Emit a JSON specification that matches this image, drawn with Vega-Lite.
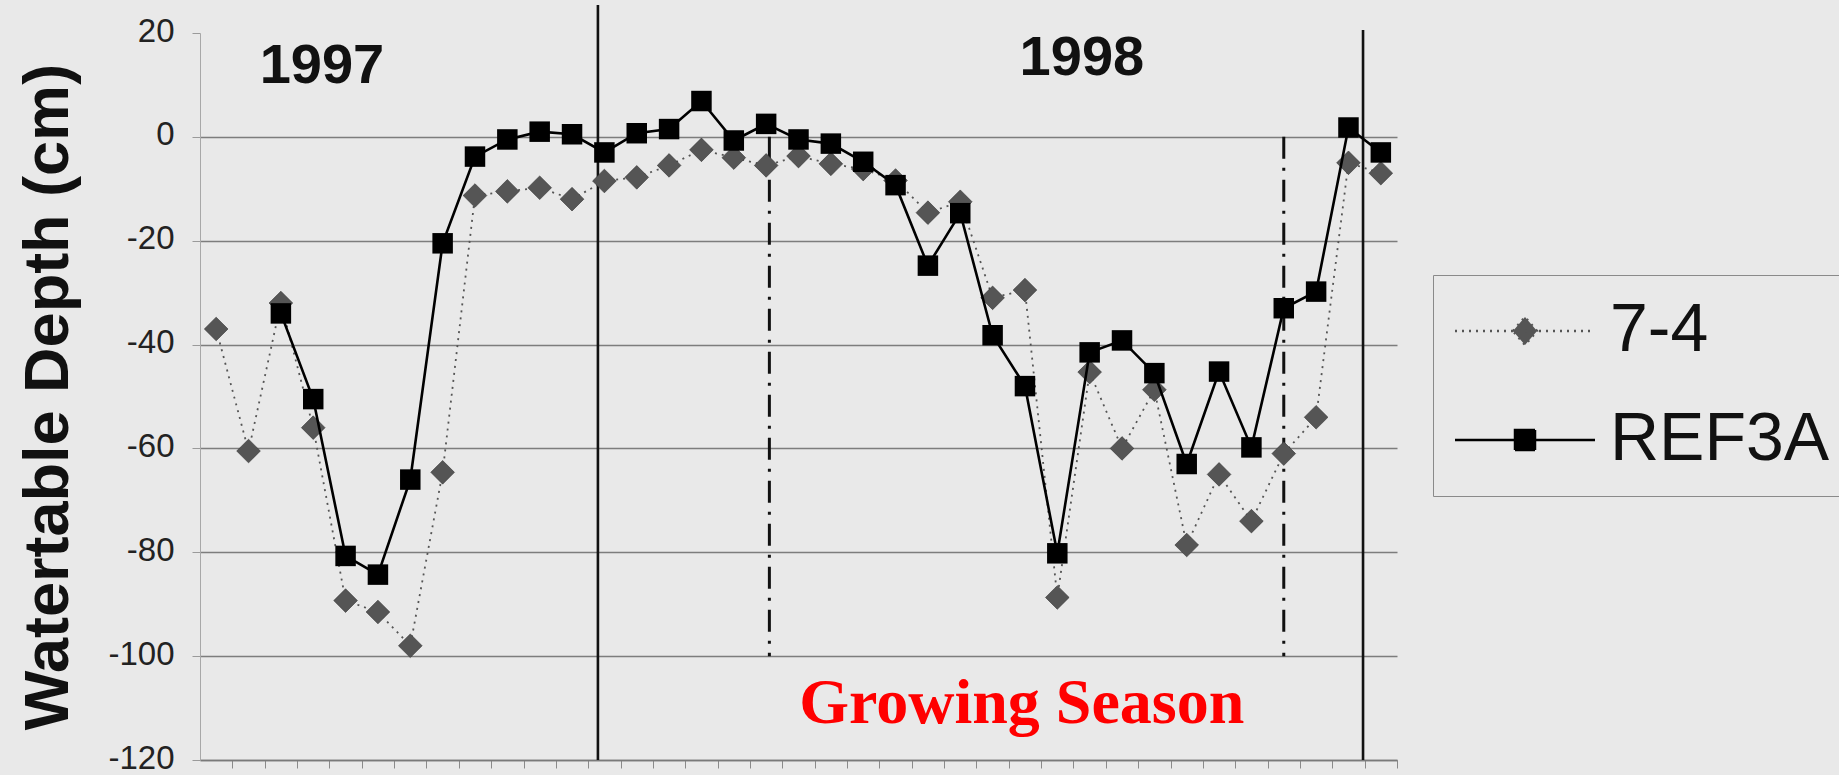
{
  "$schema": "https://vega.github.io/schema/vega-lite/v6.json",
  "width": 1197,
  "height": 727,
  "autosize": "none",
  "padding": {"left": 200, "top": 33, "right": 442, "bottom": 15},
  "background": "#e9e9e9",
  "config": {"view": {"stroke": null}, "font": "Liberation Sans"},
  "datasets": {
    "depth": [
      {"i": 0, "series": "7-4", "depth": -37},
      {"i": 1, "series": "7-4", "depth": -60.5},
      {"i": 2, "series": "7-4", "depth": -32},
      {"i": 3, "series": "7-4", "depth": -56},
      {"i": 4, "series": "7-4", "depth": -89.3},
      {"i": 5, "series": "7-4", "depth": -91.5},
      {"i": 6, "series": "7-4", "depth": -98},
      {"i": 7, "series": "7-4", "depth": -64.6},
      {"i": 8, "series": "7-4", "depth": -11.3},
      {"i": 9, "series": "7-4", "depth": -10.5},
      {"i": 10, "series": "7-4", "depth": -9.8},
      {"i": 11, "series": "7-4", "depth": -12},
      {"i": 12, "series": "7-4", "depth": -8.5},
      {"i": 13, "series": "7-4", "depth": -7.8},
      {"i": 14, "series": "7-4", "depth": -5.5},
      {"i": 15, "series": "7-4", "depth": -2.5},
      {"i": 16, "series": "7-4", "depth": -4},
      {"i": 17, "series": "7-4", "depth": -5.5},
      {"i": 18, "series": "7-4", "depth": -3.7},
      {"i": 19, "series": "7-4", "depth": -5.2},
      {"i": 20, "series": "7-4", "depth": -6.2},
      {"i": 21, "series": "7-4", "depth": -8.4},
      {"i": 22, "series": "7-4", "depth": -14.6},
      {"i": 23, "series": "7-4", "depth": -12.5},
      {"i": 24, "series": "7-4", "depth": -31},
      {"i": 25, "series": "7-4", "depth": -29.5},
      {"i": 26, "series": "7-4", "depth": -88.7},
      {"i": 27, "series": "7-4", "depth": -45.3},
      {"i": 28, "series": "7-4", "depth": -60},
      {"i": 29, "series": "7-4", "depth": -48.7},
      {"i": 30, "series": "7-4", "depth": -78.6},
      {"i": 31, "series": "7-4", "depth": -65},
      {"i": 32, "series": "7-4", "depth": -74},
      {"i": 33, "series": "7-4", "depth": -61},
      {"i": 34, "series": "7-4", "depth": -54},
      {"i": 35, "series": "7-4", "depth": -5},
      {"i": 36, "series": "7-4", "depth": -7},
      {"i": 2, "series": "REF3A", "depth": -34},
      {"i": 3, "series": "REF3A", "depth": -50.5},
      {"i": 4, "series": "REF3A", "depth": -80.7},
      {"i": 5, "series": "REF3A", "depth": -84.3},
      {"i": 6, "series": "REF3A", "depth": -66},
      {"i": 7, "series": "REF3A", "depth": -20.5},
      {"i": 8, "series": "REF3A", "depth": -3.8},
      {"i": 9, "series": "REF3A", "depth": -0.5},
      {"i": 10, "series": "REF3A", "depth": 1},
      {"i": 11, "series": "REF3A", "depth": 0.5},
      {"i": 12, "series": "REF3A", "depth": -3},
      {"i": 13, "series": "REF3A", "depth": 0.7},
      {"i": 14, "series": "REF3A", "depth": 1.5},
      {"i": 15, "series": "REF3A", "depth": 6.9},
      {"i": 16, "series": "REF3A", "depth": -0.7},
      {"i": 17, "series": "REF3A", "depth": 2.5},
      {"i": 18, "series": "REF3A", "depth": -0.5},
      {"i": 19, "series": "REF3A", "depth": -1.3},
      {"i": 20, "series": "REF3A", "depth": -4.8},
      {"i": 21, "series": "REF3A", "depth": -9.3},
      {"i": 22, "series": "REF3A", "depth": -24.8},
      {"i": 23, "series": "REF3A", "depth": -14.7},
      {"i": 24, "series": "REF3A", "depth": -38.2},
      {"i": 25, "series": "REF3A", "depth": -48},
      {"i": 26, "series": "REF3A", "depth": -80.2},
      {"i": 27, "series": "REF3A", "depth": -41.5},
      {"i": 28, "series": "REF3A", "depth": -39.2},
      {"i": 29, "series": "REF3A", "depth": -45.5},
      {"i": 30, "series": "REF3A", "depth": -63},
      {"i": 31, "series": "REF3A", "depth": -45.2},
      {"i": 32, "series": "REF3A", "depth": -59.8},
      {"i": 33, "series": "REF3A", "depth": -33},
      {"i": 34, "series": "REF3A", "depth": -29.8},
      {"i": 35, "series": "REF3A", "depth": 1.8},
      {"i": 36, "series": "REF3A", "depth": -3}
    ],
    "yearLines": [
      {"i": 11.8, "depth": 25.4, "depth2": -120},
      {"i": 35.45, "depth": 20.6, "depth2": -120}
    ],
    "seasonLines": [
      {"i": 17.1, "depth": 0, "depth2": -100},
      {"i": 33.0, "depth": 0, "depth2": -100}
    ],
    "years": [
      {"i": 3.27, "depth": 10.4, "label": "1997"},
      {"i": 26.76, "depth": 11.9, "label": "1998"}
    ],
    "season": [
      {"i": 24.9, "depth": -112.8, "label": "Growing Season"}
    ]
  },
  "encoding": {
    "x": {
      "field": "i",
      "type": "quantitative",
      "scale": {"domain": [-0.5, 36.5], "nice": false, "zero": false},
      "axis": {
        "title": null,
        "labels": false,
        "grid": false,
        "values": [0.5, 1.5, 2.5, 3.5, 4.5, 5.5, 6.5, 7.5, 8.5, 9.5, 10.5, 11.5, 12.5, 13.5, 14.5, 15.5, 16.5, 17.5, 18.5, 19.5, 20.5, 21.5, 22.5, 23.5, 24.5, 25.5, 26.5, 27.5, 28.5, 29.5, 30.5, 31.5, 32.5, 33.5, 34.5, 35.5, 36.5],
        "tickSize": 8,
        "tickColor": "#8a8a8a",
        "tickWidth": 1,
        "domainColor": "#7a7a7a",
        "domainWidth": 1.5
      }
    },
    "y": {
      "field": "depth",
      "type": "quantitative",
      "scale": {"domain": [-120, 20], "nice": false, "zero": false},
      "axis": {
        "title": "Watertable Depth (cm)",
        "titleFont": "Liberation Sans",
        "titleFontSize": 63,
        "titleFontWeight": "bold",
        "titleColor": "#111111",
        "titleX": -133,
        "titleY": 363.5,
        "titleAlign": "center",
        "titleBaseline": "alphabetic",
        "titleAngle": 270,
        "values": [-120, -100, -80, -60, -40, -20, 0, 20],
        "labelExpr": "'' + datum.value",
        "labelFont": "Liberation Sans",
        "labelFontSize": 33,
        "labelColor": "#222222",
        "labelPadding": 18,
        "labelOffset": -2,
        "tickSize": 8,
        "tickColor": "#9a9a9a",
        "domainColor": "#a8a8a8",
        "domainWidth": 1,
        "grid": true,
        "gridColor": "#7d7d7d",
        "gridWidth": 1.5,
        "gridOpacity": {"condition": {"test": "datum.value == 20", "value": 0}, "value": 1}
      }
    }
  },
  "layer": [
    {
      "data": {"name": "yearLines"},
      "mark": {"type": "rule", "color": "#111111", "strokeWidth": 2.6},
      "encoding": {"y2": {"field": "depth2"}}
    },
    {
      "data": {"name": "seasonLines"},
      "mark": {"type": "rule", "color": "#111111", "strokeWidth": 3, "strokeDash": [22, 9, 3, 9]},
      "encoding": {"y2": {"field": "depth2"}}
    },
    {
      "data": {"name": "depth"},
      "transform": [{"filter": "datum.series === '7-4'"}],
      "mark": {"type": "line", "strokeWidth": 1.8, "strokeDash": [2, 5], "color": "#555555"},
      "encoding": {}
    },
    {
      "data": {"name": "depth"},
      "transform": [{"filter": "datum.series === '7-4'"}],
      "mark": {"type": "point", "shape": "diamond", "size": 560, "filled": true, "opacity": 1, "fill": "#555555", "stroke": "#333333", "strokeWidth": 0.6},
      "encoding": {}
    },
    {
      "data": {"name": "depth"},
      "transform": [{"filter": "datum.series === 'REF3A'"}],
      "mark": {"type": "line", "strokeWidth": 2.6, "color": "#000000"},
      "encoding": {}
    },
    {
      "data": {"name": "depth"},
      "transform": [{"filter": "datum.series === 'REF3A'"}],
      "mark": {"type": "point", "shape": "square", "size": 420, "filled": true, "opacity": 1, "color": "#000000"},
      "encoding": {}
    },
    {
      "data": {"name": "depth"},
      "transform": [{"filter": "datum.i < -10"}],
      "mark": {"type": "point", "filled": true},
      "encoding": {
        "fill": {
          "field": "series", "type": "nominal",
          "scale": {"domain": ["7-4", "REF3A"], "range": ["#555555", "#000000"]},
          "legend": {"orient": "none", "legendX": 1233, "legendY": 242, "title": null, "padding": 22, "strokeColor": "#8a8a8a", "symbolSize": 400, "symbolOffset": 36, "symbolStrokeWidth": 2.5, "symbolOpacity": 1, "labelFont": "Liberation Sans", "labelFontSize": 68, "labelColor": "#111111", "labelOffset": 51, "labelLimit": 500, "rowPadding": 41}
        },
        "stroke": {
          "field": "series", "type": "nominal",
          "scale": {"domain": ["7-4", "REF3A"], "range": ["#555555", "#000000"]},
          "legend": {"orient": "none", "legendX": 1233, "legendY": 242, "title": null, "padding": 22, "strokeColor": "#8a8a8a", "symbolSize": 400, "symbolOffset": 36, "symbolStrokeWidth": 2.5, "symbolOpacity": 1, "labelFont": "Liberation Sans", "labelFontSize": 68, "labelColor": "#111111", "labelOffset": 51, "labelLimit": 500, "rowPadding": 41}
        },
        "shape": {
          "field": "series", "type": "nominal",
          "scale": {"domain": ["7-4", "REF3A"], "range": ["M-7,0H7M-1.2,0L0,-1.4L1.2,0L0,1.4Z", "M-7,0H7M-1,-1H1V1H-1Z"]},
          "legend": {"orient": "none", "legendX": 1233, "legendY": 242, "title": null, "padding": 22, "strokeColor": "#8a8a8a", "symbolSize": 400, "symbolOffset": 36, "symbolStrokeWidth": 2.5, "symbolOpacity": 1, "labelFont": "Liberation Sans", "labelFontSize": 68, "labelColor": "#111111", "labelOffset": 51, "labelLimit": 500, "rowPadding": 41}
        },
        "strokeDash": {
          "field": "series", "type": "nominal",
          "scale": {"domain": ["7-4", "REF3A"], "range": [[2, 5], [1, 0]]},
          "legend": {"orient": "none", "legendX": 1233, "legendY": 242, "title": null, "padding": 22, "strokeColor": "#8a8a8a", "symbolSize": 400, "symbolOffset": 36, "symbolStrokeWidth": 2.5, "symbolOpacity": 1, "labelFont": "Liberation Sans", "labelFontSize": 68, "labelColor": "#111111", "labelOffset": 51, "labelLimit": 500, "rowPadding": 41}
        }
      }
    },
    {
      "data": {"name": "years"},
      "mark": {"type": "text", "font": "Liberation Sans", "fontSize": 56, "fontWeight": "bold", "color": "#111111", "align": "center", "baseline": "alphabetic"},
      "encoding": {"text": {"field": "label"}}
    },
    {
      "data": {"name": "season"},
      "mark": {"type": "text", "font": "Liberation Serif", "fontSize": 64, "fontWeight": "bold", "color": "#ff0000", "align": "center", "baseline": "alphabetic"},
      "encoding": {"text": {"field": "label"}}
    }
  ]
}
